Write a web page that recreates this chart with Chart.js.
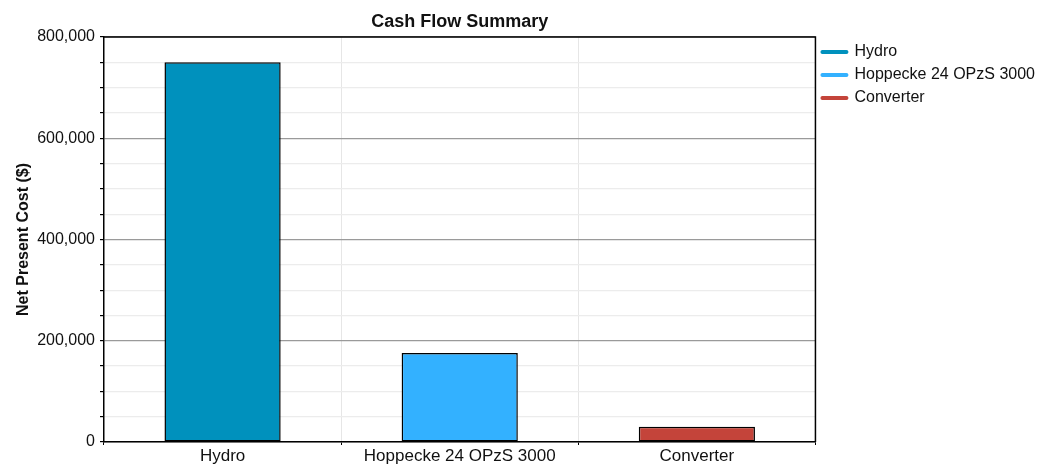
<!DOCTYPE html>
<html>
<head>
<meta charset="utf-8">
<script src="https://cdn.jsdelivr.net/npm/chart.js@4.4.0/dist/chart.umd.min.js"></script>
<style>
  html, body { margin: 0; padding: 0; background: #fff; }
  #wrap { width: 1046px; height: 466px; }
</style>
</head>
<body>
<div id="wrap"><canvas id="cashFlow"></canvas></div>
<script>
// values
const categories = ["Hydro", "Hoppecke 24 OPzS 3000", "Converter"];
const netPresentCost = [750000, 176000, 30000];
const yMajorStep = 200000;
const yMinorStep = 50000;
const yMax = 800000;

const barColors = ["#0091BD", "#33B1FF", "#C4443A"];

const FONT = "'Liberation Sans', Arial, sans-serif";

// one dataset per component so the legend lists each one
const datasets = categories.map((name, i) => ({
    label: name,
    data: categories.map((_, j) => (j === i ? netPresentCost[i] : null)),
    backgroundColor: barColors[i],
    borderColor: "#000",
    borderWidth: 1.5,
    borderSkipped: false,
    barPercentage: 0.49,
    categoryPercentage: 1,
    grouped: false
}));

// frame on top/right and the title centred over the plot area
const framePlugin = {
    id: "frame",
    afterDraw(chart) {
        const {ctx, chartArea: a} = chart;
        ctx.save();
        ctx.strokeStyle = "#000";
        ctx.lineWidth = 1.5;
        ctx.beginPath();
        ctx.moveTo(a.left, a.top);
        ctx.lineTo(a.right, a.top);
        ctx.lineTo(a.right, a.bottom);
        ctx.stroke();
        ctx.fillStyle = "#111";
        ctx.font = "bold 18px " + FONT;
        ctx.textAlign = "center";
        ctx.textBaseline = "middle";
        ctx.fillText("Cash Flow Summary", (a.left + a.right) / 2, 22);
        ctx.restore();
    }
};

new Chart(document.getElementById("cashFlow"), {
    type: "bar",
    data: {labels: categories, datasets: datasets},
    plugins: [framePlugin],
    options: {
        responsive: true,
        maintainAspectRatio: false,
        animation: false,
        layout: {padding: {top: 37, right: 1, left: 0, bottom: 0}},
        plugins: {
            title: {display: false},
            tooltip: {enabled: false},
            legend: {
                position: "right",
                align: "start",
                labels: {
                    usePointStyle: true,
                    pointStyleWidth: 24,
                    padding: 7,
                    color: "#111",
                    font: {family: FONT, size: 16},
                    generateLabels(chart) {
                        return chart.data.datasets.map((ds, i) => ({
                            text: ds.label,
                            fillStyle: barColors[i],
                            strokeStyle: barColors[i],
                            lineWidth: 4,
                            lineCap: "round",
                            pointStyle: "line",
                            fontColor: "#111",
                            datasetIndex: i
                        }));
                    }
                }
            }
        },
        scales: {
            x: {
                offset: true,
                border: {color: "#000", width: 1.5},
                grid: {
                    offset: true,
                    color: "#e6e6e6",
                    tickColor: "#000",
                    tickLength: 3
                },
                ticks: {color: "#111", padding: 1, font: {family: FONT, size: 17}},
                afterFit(scale) { scale.height = 24; }
            },
            y: {
                min: 0,
                max: yMax,
                border: {color: "#000", width: 1.5},
                title: {
                    display: true,
                    text: "Net Present Cost ($)",
                    color: "#111",
                    font: {family: FONT, size: 16, weight: "bold"},
                    padding: {top: 14, bottom: 0}
                },
                grid: {
                    color: (c) => (c.tick.value % yMajorStep === 0 ? "#9a9a9a" : "#ececec"),
                    tickColor: "#000",
                    tickLength: 4,
                    lineWidth: 1.2
                },
                ticks: {
                    stepSize: yMinorStep,
                    autoSkip: false,
                    padding: 5,
                    color: "#111",
                    font: {family: FONT, size: 16},
                    callback: (v) => (v % yMajorStep === 0 ? v.toLocaleString("en-US") : "")
                },
                afterFit(scale) { scale.width = 104; }
            }
        }
    }
});
</script>
</body>
</html>
